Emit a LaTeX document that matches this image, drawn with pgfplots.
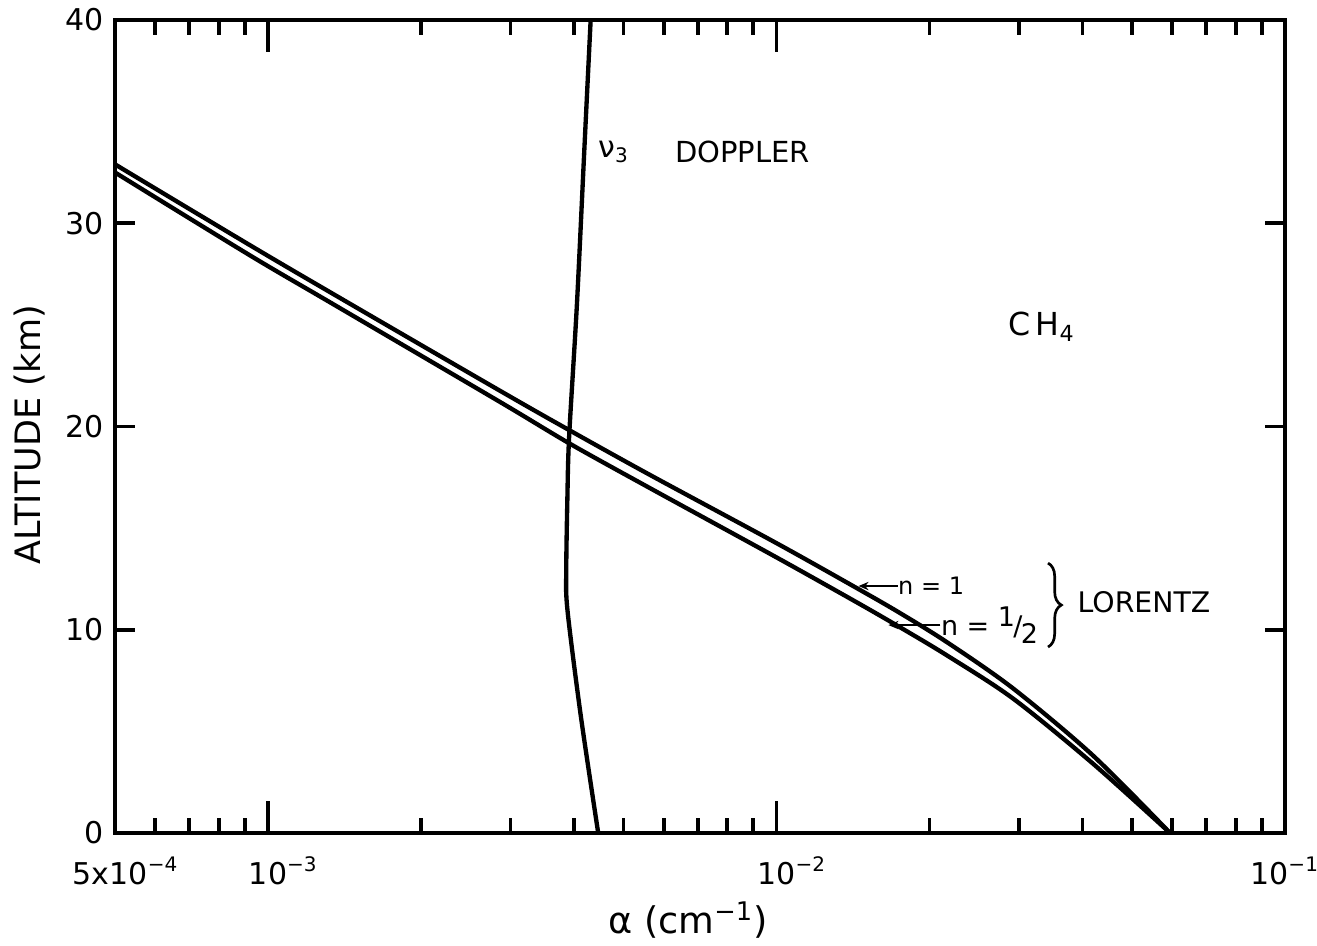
\documentclass[border=0pt]{standalone}
\usepackage{fontspec}
\setmainfont{DejaVu Sans}
\usepackage{pgfplots}
\pgfplotsset{compat=1.18}
\usetikzlibrary{arrows.meta,decorations.pathreplacing}

\begin{document}
\begin{tikzpicture}
\begin{axis}[
    width=351pt, height=243.9pt, scale only axis,
    xmode=log,
    xmin=5e-4, xmax=1e-1,
    ymin=0, ymax=40,
    axis line style={line width=1.2pt},
    every tick/.style={black, line width=1.1pt},
    major tick length=9.6pt,
    minor tick length=4.5pt,
    tick align=inside,
    xtick={1e-3,1e-2,1e-1},
    xticklabels={\hphantom{\textsuperscript{−3}}10\textsuperscript{−3},\hphantom{\textsuperscript{−2}}10\textsuperscript{−2},10\textsuperscript{−1}},
    minor xtick={6e-4,7e-4,8e-4,9e-4,2e-3,3e-3,4e-3,5e-3,6e-3,7e-3,8e-3,9e-3,2e-2,3e-2,4e-2,5e-2,6e-2,7e-2,8e-2,9e-2},
    xticklabel style={yshift=-6pt, inner sep=1pt},
    extra x ticks={5e-4},
    extra x tick labels={5x10\textsuperscript{−4}},
    extra x tick style={xticklabel style={xshift=3.3pt}},
    ytick={0,40},
    extra y ticks={10,20,30},
    extra y tick style={major tick length=6pt},
    /pgf/number format/assume math mode=true,
    tick label style={font=\fontsize{9}{10}\selectfont},
    xlabel={α (cm\textsuperscript{−1})},
    ylabel={ALTITUDE (km)},
    xlabel style={font=\fontsize{11}{12}\selectfont, at={(axis description cs:0.49,-0.107)}, anchor=center},
    ylabel style={font=\fontsize{10.5}{12}\selectfont, at={(axis description cs:-0.073,0.49)}, anchor=center},
]
% Doppler
\addplot[black, line width=1.3pt, smooth] coordinates {
(4.46e-3,0) (4.12e-3,5.8) (3.88e-3,11.0) (3.86e-3,13.0) (3.88e-3,16.5) (3.91e-3,19.5) (4.05e-3,26.0) (4.19e-3,33.7) (4.31e-3,40)
};
% Lorentz n = 1
\addplot[black, line width=1.3pt, smooth, tension=0.5] coordinates {
(5.0e-4,32.9) (9.20e-4,28.93) (1.343e-3,26.52) (2.858e-3,21.76) (3.926e-3,19.80) (5.636e-3,17.62)
(1.0e-2,14.26) (1.445e-2,12.02) (1.750e-2,10.82) (2.163e-2,9.39) (2.917e-2,7.12) (4.188e-2,3.82) (5.943e-2,0)
};
% Lorentz n = 1/2
\addplot[black, line width=1.3pt, smooth, tension=0.5] coordinates {
(5.0e-4,32.5) (9.20e-4,28.43) (1.343e-3,26.02) (2.858e-3,21.21) (3.926e-3,19.15) (5.636e-3,16.97)
(1.0e-2,13.56) (1.445e-2,11.32) (1.750e-2,10.12) (2.163e-2,8.74) (2.917e-2,6.62) (4.188e-2,3.42) (5.943e-2,0)
};

\node[anchor=west, inner sep=0pt, font=\fontsize{9}{10}\selectfont] at (axis cs:4.45e-3,33.5) {ν\textsubscript{3}};
\node[anchor=west, inner sep=0pt, font=\fontsize{8.7}{10}\selectfont] at (axis cs:6.3e-3,33.5) {DOPPLER};
\node[anchor=west, inner sep=0pt, font=\fontsize{9.5}{11}\selectfont] at (axis cs:2.85e-2,24.9) {C\,H\textsubscript{4}};
\draw[-{Stealth[length=3pt,width=2.5pt]}, line width=0.6pt] (axis cs:1.73e-2,12.15) -- (axis cs:1.45e-2,12.15);
\node[anchor=west, inner sep=0pt, font=\fontsize{7.2}{8}\selectfont] at (axis cs:1.73e-2,12.15) {n = 1};
\draw[-{Stealth[length=3pt,width=2.5pt]}, line width=0.6pt] (axis cs:2.1e-2,10.23) -- (axis cs:1.66e-2,10.23);
\node[anchor=west, inner sep=0pt, font=\fontsize{8.1}{9}\selectfont] at (axis cs:2.1e-2,10.23) {n = \raisebox{0.6ex}{1}\kern-0.5pt/\kern-0.5pt\raisebox{-0.5ex}{2}};
\draw[line width=0.8pt, decorate, decoration={brace, amplitude=4pt}] (axis cs:3.42e-2,13.28) -- (axis cs:3.42e-2,9.15);
\node[anchor=west, inner sep=0pt, font=\fontsize{8.5}{10}\selectfont] at (axis cs:3.9e-2,11.37) {LORENTZ};
\end{axis}
\pgfresetboundingbox
\path ([shift={(-34.5pt,-33.9pt)}]current axis.south west) rectangle ([shift={(9.6pt,6pt)}]current axis.north east);
\end{tikzpicture}
\end{document}
